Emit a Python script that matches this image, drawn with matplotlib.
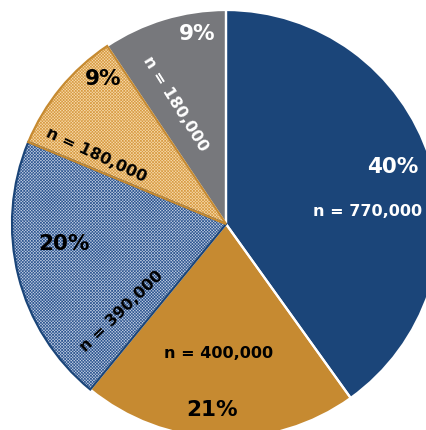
# Pie chart of sample sizes by group
import matplotlib
matplotlib.use('Agg')
import matplotlib.pyplot as plt

# data
counts = [770000, 400000, 390000, 180000, 180000]
fill_colors = ['#1b4579', '#c68a31', '#c4d0e4', '#f8dcad', '#77787c']
hatch_colors = ['#1b4579', '#c68a31', '#2f5791', '#d89c45', '#77787c']
edge_colors = ['white', 'white', '#1b4579', '#c68a31', 'white']
hatches = ['', '', 'x' * 11, 'x' * 11, '']
text_colors = ['white', 'black', 'black', 'black', 'white']

# label layout (pixel positions in the 427x430 image, rotation in degrees)
pct_pos = [(393, 167, 0), (212, 410, 0), (64, 244, 0), (103, 79, 0), (197, 34, 0)]
n_pos = [(368, 211, 0), (219, 353, 0), (122, 311, 44), (96, 155, -25), (175, 104, -58)]
pct_size = [15.5, 15.5, 15.5, 15.5, 15.5]
n_size = [11.5, 11.5, 11.5, 11.5, 11.5]

W, H = 427, 430
CX, CY, R = 226, 224, 214

plt.rcParams['hatch.linewidth'] = 0.5
fig = plt.figure(figsize=(W / 100, H / 100), dpi=100)
ax = fig.add_axes([(CX - R) / W, (H - CY - R) / H, 2 * R / W, 2 * R / H])

# fills
wedges, _ = ax.pie(counts, colors=fill_colors, startangle=90, counterclock=False,
                   hatch=hatches, wedgeprops=dict(linewidth=0))
for w, hc in zip(wedges, hatch_colors):
    w.set_edgecolor(hc)
    w.set_linewidth(0)

# outlines: plain slices first, hatched ones on top
outlines, _ = ax.pie(counts, colors=['none'] * len(counts), startangle=90,
                     counterclock=False, wedgeprops=dict(linewidth=1.6))
for w, ec in zip(outlines, edge_colors):
    w.set_facecolor('none')
    w.set_edgecolor(ec)
    w.set_zorder(3 if ec != 'white' else 2)

ax.set_xlim(-1, 1)
ax.set_ylim(-1, 1)
ax.axis('off')


def to_data(px, py):
    return (px - CX) / R, (CY - py) / R


total = sum(counts)
for i, c in enumerate(counts):
    x, y = to_data(pct_pos[i][0], pct_pos[i][1])
    ax.text(x, y, f'{round(100 * c / total)}%', ha='center', va='center',
            fontsize=pct_size[i], fontweight='bold', color=text_colors[i],
            rotation=pct_pos[i][2], zorder=5, clip_on=False)
    x, y = to_data(n_pos[i][0], n_pos[i][1])
    ax.text(x, y, f'n = {c:,}', ha='center', va='center',
            fontsize=n_size[i], fontweight='bold', color=text_colors[i],
            rotation=n_pos[i][2], rotation_mode='anchor', zorder=5, clip_on=False)

fig.savefig('out.png', dpi=100, facecolor='white')
